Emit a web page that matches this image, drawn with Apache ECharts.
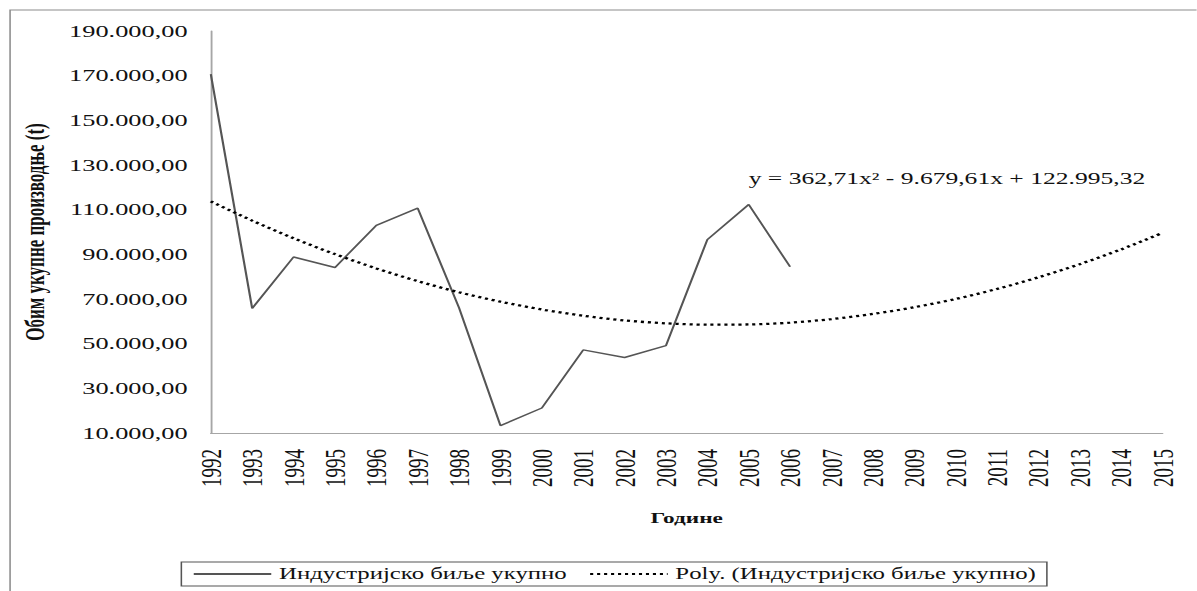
<!DOCTYPE html>
<html>
<head>
<meta charset="utf-8">
<script src="https://cdn.jsdelivr.net/npm/echarts@6/dist/echarts.min.js"></script>
<style>
html, body { margin: 0; padding: 0; background: #fff; overflow: hidden; }
/* the original picture is stretched sideways, so draw narrow and widen it */
#chart { width: 772px; height: 591px; transform: scaleX(1.55); transform-origin: 0 0; }
</style>
</head>
<body>
<div id="chart"></div>
<script>
const years = ['1992', '1993', '1994', '1995', '1996', '1997', '1998', '1999', '2000', '2001', '2002', '2003',
  '2004', '2005', '2006', '2007', '2008', '2009', '2010', '2011', '2012', '2013', '2014', '2015'];
// Индустријско биље укупно (t), нема података после 2006
const production = [170700, 65800, 88800, 84100, 103000, 110700, 66000, 13300, 21200, 47200, 43800, 49100,
  96600, 112300, 84400, null, null, null, null, null, null, null, null, null];
// полиномски тренд, очитано са слике
const polyTrend = [113700, 105100, 97200, 90100, 83700, 78000, 73000, 68800, 65300, 62500, 60400, 59100,
  58500, 58600, 59400, 61000, 63300, 66300, 70000, 74500, 79700, 85600, 92200, 99600];
const yMin = 10000;
const yMax = 190000;
const yStep = 20000;
const seriesName = 'Индустријско биље укупно';
const trendName = 'Poly. (Индустријско биље укупно)';
const equation = 'y = 362,71x² - 9.679,61x + 122.995,32';

const serif = '"Liberation Serif", "Times New Roman", serif';

function fmt(v) {
  // 190000 -> 190.000,00
  return String(v).replace(/\B(?=(\d{3})+(?!\d))/g, '.') + ',00';
}

let chart = echarts.init(document.getElementById('chart'), null, { renderer: 'svg', width: 772, height: 591 });

let option = {
  animation: false,
  backgroundColor: '#fff',
  grid: { left: 136, right: 22, top: 31, bottom: 158 },
  legend: {
    left: 117,
    top: 562,
    borderColor: '#555',
    borderWidth: 1,
    padding: [4, 7, 4, 7],
    itemWidth: 50,
    itemHeight: 10,
    itemGap: 14,
    itemStyle: { opacity: 0 },
    textStyle: { fontFamily: serif, fontSize: 16, color: '#111' },
    data: [seriesName, trendName]
  },
  xAxis: {
    type: 'category',
    boundaryGap: false,
    data: years,
    name: 'Године',
    nameLocation: 'middle',
    nameGap: 78,
    nameTextStyle: { fontFamily: serif, fontWeight: 'bold', fontSize: 15, color: '#111' },
    axisLine: { lineStyle: { color: '#a6a6a6', width: 1.2 } },
    axisTick: { show: false },
    axisLabel: { rotate: 90, interval: 0, margin: 16, fontFamily: serif, fontSize: 19, color: '#111' }
  },
  yAxis: {
    type: 'value',
    min: yMin,
    max: yMax,
    interval: yStep,
    name: 'Обим укупне производње (t)',
    nameLocation: 'middle',
    nameGap: 105,
    nameTextStyle: { fontFamily: serif, fontWeight: 'bold', fontSize: 17, color: '#111' },
    splitLine: { show: false },
    axisTick: { show: false },
    axisLine: { show: true, lineStyle: { color: '#a6a6a6', width: 1.2 } },
    axisLabel: { formatter: fmt, margin: 15, fontFamily: serif, fontSize: 17, color: '#111' }
  },
  graphic: [
    {
      type: 'rect',
      shape: { x: 6.5, y: 10, width: 900, height: 700 },
      style: { fill: 'none', stroke: '#8c8c8c', lineWidth: 1 },
      silent: true
    },
    {
      type: 'text',
      left: 483,
      top: 170,
      style: { text: equation, font: '16.5px "Liberation Serif"', fill: '#111' }
    }
  ],
  series: [
    {
      name: seriesName,
      type: 'line',
      data: production,
      symbol: 'none',
      connectNulls: false,
      lineStyle: { color: '#555', width: 1.4 },
      itemStyle: { color: '#555' }
    },
    {
      name: trendName,
      type: 'line',
      data: polyTrend,
      symbol: 'none',
      smooth: 0.3,
      lineStyle: { color: '#000', width: 2.3, type: [2, 2.5] },
      itemStyle: { color: '#000' }
    }
  ]
};

chart.setOption(option);
</script>
</body>
</html>
